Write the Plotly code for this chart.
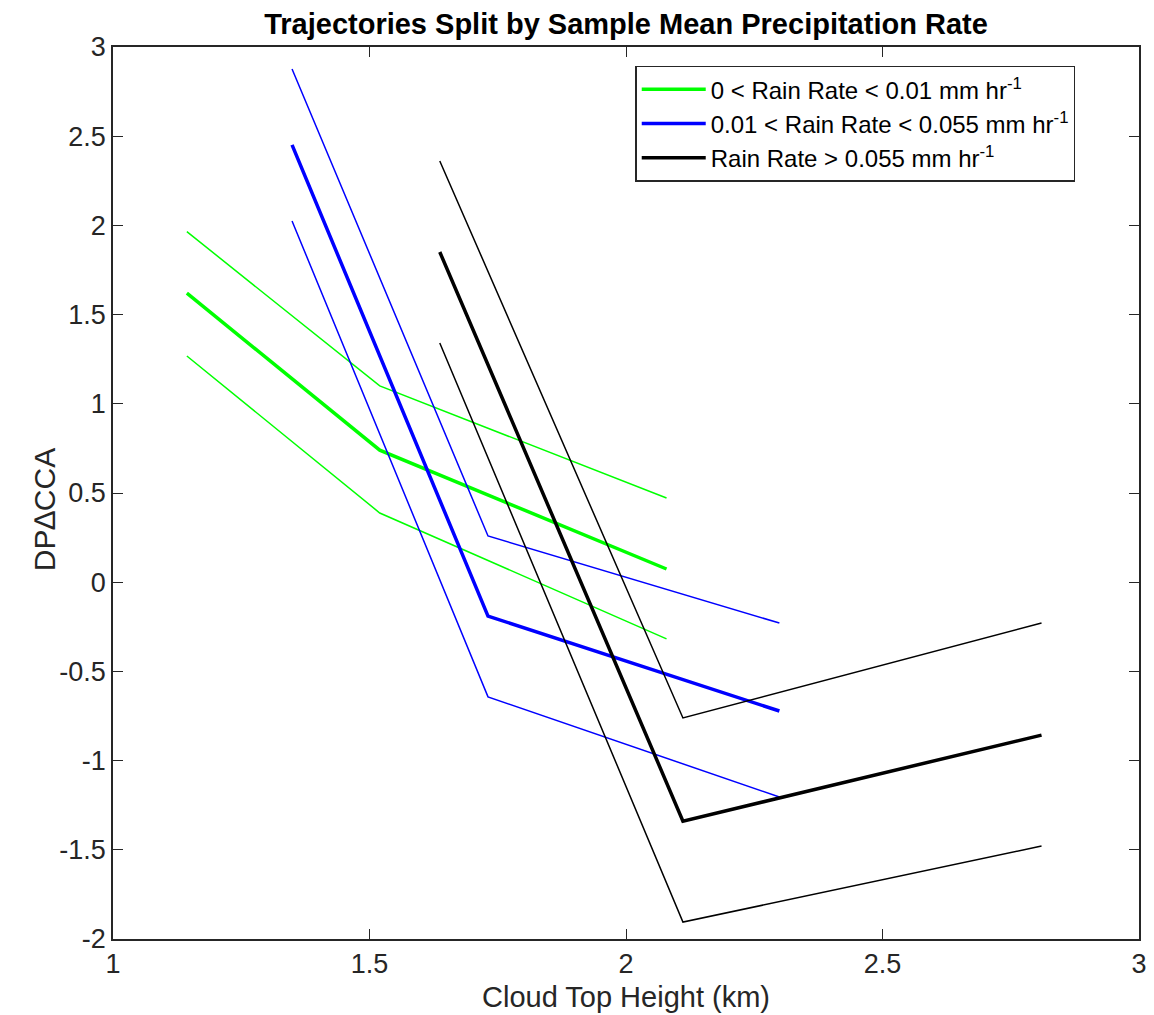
import plotly.graph_objects as go

# Cloud top height (km) at the three points of each trajectory
x_low = [1.144, 1.520, 2.079]
x_mid = [1.349, 1.731, 2.299]
x_high = [1.637, 2.111, 2.810]

# DP delta CCA values: mean and bounds
low_mean = [1.62, 0.74, 0.074]
low_upper = [1.965, 1.10, 0.472]
low_lower = [1.268, 0.388, -0.318]

mid_mean = [2.451, -0.19, -0.722]
mid_upper = [2.877, 0.259, -0.229]
mid_lower = [2.025, -0.643, -1.204]

high_mean = [1.851, -1.339, -0.857]
high_upper = [2.361, -0.761, -0.229]
high_lower = [1.341, -1.905, -1.479]

names = [
    "0 < Rain Rate < 0.01 mm hr<sup>-1</sup>",
    "0.01 < Rain Rate < 0.055 mm hr<sup>-1</sup>",
    "Rain Rate > 0.055 mm hr<sup>-1</sup>",
]
colors = ["#00FF00", "#0000FF", "#000000"]

fig = go.Figure()
groups = [
    (x_low, low_mean, low_upper, low_lower),
    (x_mid, mid_mean, mid_upper, mid_lower),
    (x_high, high_mean, high_upper, high_lower),
]
for (xs, m, u, l), name, c in zip(groups, names, colors):
    fig.add_trace(go.Scatter(x=xs, y=m, mode="lines", name=name,
                             line=dict(color=c, width=3.5)))
    for arr in (u, l):
        fig.add_trace(go.Scatter(x=xs, y=arr, mode="lines", showlegend=False,
                                 line=dict(color=c, width=1.5), hoverinfo="skip"))

FONT = "Liberation Sans, Arial, sans-serif"
axis_common = dict(
    showgrid=False, zeroline=False, showline=True, linecolor="#262626", linewidth=1.5,
    mirror="ticks", ticks="inside", ticklen=10, tickwidth=1, tickcolor="#262626",
    tickfont=dict(family=FONT, size=27, color="#262626"),
)
fig.update_layout(
    width=1151, height=1007,
    margin=dict(l=105, r=14, t=39, b=76),
    paper_bgcolor="white", plot_bgcolor="white",
    title=dict(text="<b>Trajectories Split by Sample Mean Precipitation Rate</b>",
               x=0.5, xref="paper", xanchor="center", y=1, yref="container",
               yanchor="top", pad=dict(t=6),
               font=dict(family=FONT, size=29, color="black")),
    xaxis=dict(range=[1, 3], tickvals=[1, 1.5, 2, 2.5, 3],
               ticktext=["1", "1.5", "2", "2.5", "3"],
               **axis_common),
    yaxis=dict(range=[-2, 3], tickvals=[-2, -1.5, -1, -0.5, 0, 0.5, 1, 1.5, 2, 2.5, 3],
               ticktext=["-2", "-1.5", "-1", "-0.5", "0", "0.5", "1", "1.5", "2", "2.5", "3"],
               **axis_common),
    legend=dict(x=0.509, y=0.979, xanchor="left", yanchor="top",
                bgcolor="white", bordercolor="#262626", borderwidth=1.5,
                font=dict(family=FONT, size=24, color="black"),
                tracegroupgap=0, itemwidth=64),
    showlegend=True,
    annotations=[
        dict(text="Cloud Top Height (km)", xref="paper", yref="paper",
             x=0.5, y=-0.0645, xanchor="center", yanchor="middle", showarrow=False,
             font=dict(family=FONT, size=29, color="#262626")),
        dict(text="DP∆CCA", xref="paper", yref="paper", textangle=-90,
             x=-0.066, y=0.481, xanchor="center", yanchor="middle", showarrow=False,
             font=dict(family=FONT, size=30, color="#262626")),
    ],
)

fig.write_html("out.html")
